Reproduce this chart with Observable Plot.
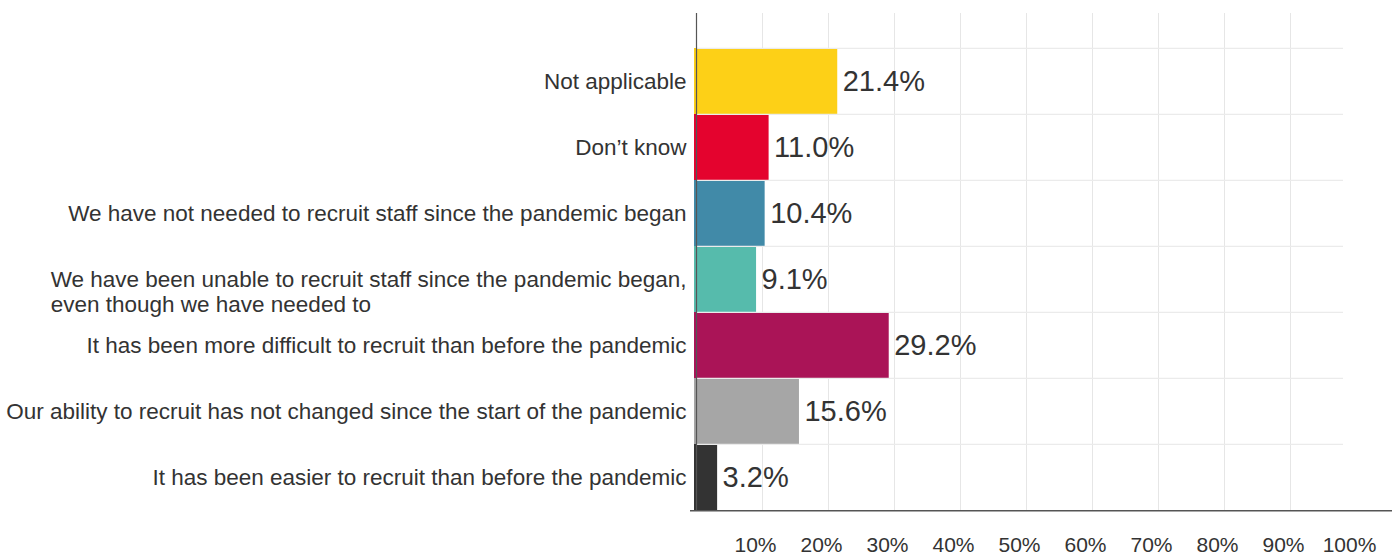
<!DOCTYPE html>
<html>
<head>
<meta charset="utf-8">
<script src="https://cdn.jsdelivr.net/npm/d3@7"></script>
<script src="https://cdn.jsdelivr.net/npm/@observablehq/plot@0.6"></script>
<style>
  html, body { margin: 0; padding: 0; background: #fff; }
  #chart svg { display: block; }
</style>
</head>
<body>
<div id="chart"></div>
<script>
// Survey responses on recruitment since the pandemic began
const categories = [
  "Not applicable",
  "Don’t know",
  "We have not needed to recruit staff since the pandemic began",
  "We have been unable to recruit staff since the pandemic began,\neven though we have needed to",
  "It has been more difficult to recruit than before the pandemic",
  "Our ability to recruit has not changed since the start of the pandemic",
  "It has been easier to recruit than before the pandemic"
];
const values = [21.4, 11.0, 10.4, 9.1, 29.2, 15.6, 3.2];
const colors = ["#fdd017", "#e4032e", "#418aa8", "#56bbac", "#aa1457", "#a6a6a6", "#333333"];
const gridTicks = [10, 20, 30, 40, 50, 60, 70, 80, 90];
const tickLabels = [10, 20, 30, 40, 50, 60, 70, 80, 90, 100];

const data = categories.map((category, i) => ({category, value: values[i]}));

const width = 1392, height = 554;
const marginTop = 46, marginBottom = 43;
const band = (height - marginTop - marginBottom) / categories.length;
const font = "'Liberation Sans', Arial, Helvetica, sans-serif";

const chart = Plot.plot({
  width, height,
  marginLeft: 696, marginRight: 36, marginTop, marginBottom,
  style: {fontFamily: font, background: "#fff", color: "#333", overflow: "visible"},
  x: {domain: [0, 100], axis: null},
  y: {domain: categories, padding: 0, axis: null},
  color: {domain: categories, range: colors},
  marks: [
    // vertical grid
    Plot.ruleX(gridTicks, {x: d => d, stroke: "#e6e6e6", strokeWidth: 1, insetTop: -33}),
    // bars
    Plot.barX(data, {x: "value", y: "category", fill: "category", insetLeft: -2}),
    // row separators
    Plot.ruleY(categories, {y: d => d, dy: -band / 2, stroke: "#ebebeb", strokeWidth: 1.2, insetRight: 13}),
    // axis lines
    Plot.ruleX([0], {stroke: "#555", strokeWidth: 1.2, insetTop: -33}),
    Plot.ruleY([categories[categories.length - 1]], {dy: band / 2, stroke: "#555", strokeWidth: 1.5, insetLeft: -6, insetRight: -40}),
    // value labels
    Plot.text(data, {
      x: "value", y: "category", text: d => d.value.toFixed(1) + "%",
      textAnchor: "start", dx: 5, fontSize: 29, fill: "#333"
    }),
    // category labels
    Plot.text(categories, {
      x: 0, y: d => d, text: d => d, textAnchor: "end", dx: -10,
      lineAnchor: "top", dy: -10, lineHeight: 1.11, fontSize: 22.5, fill: "#333",
      className: "cat-label"
    }),
    // x tick labels
    Plot.text(tickLabels, {
      x: d => d, frameAnchor: "bottom", text: d => d + "%",
      dy: 40, dx: -7, fontSize: 21, fill: "#333"
    })
  ]
});

document.getElementById("chart").append(chart);

// Left-align the lines of wrapped category labels within their block
d3.select(chart).selectAll(".cat-label text").each(function () {
  const spans = this.querySelectorAll("tspan");
  if (spans.length < 2) return;
  const w = d3.max(Array.from(spans), s => s.getComputedTextLength());
  this.setAttribute("text-anchor", "start");
  spans.forEach(s => s.setAttribute("x", -w));
});
</script>
</body>
</html>
